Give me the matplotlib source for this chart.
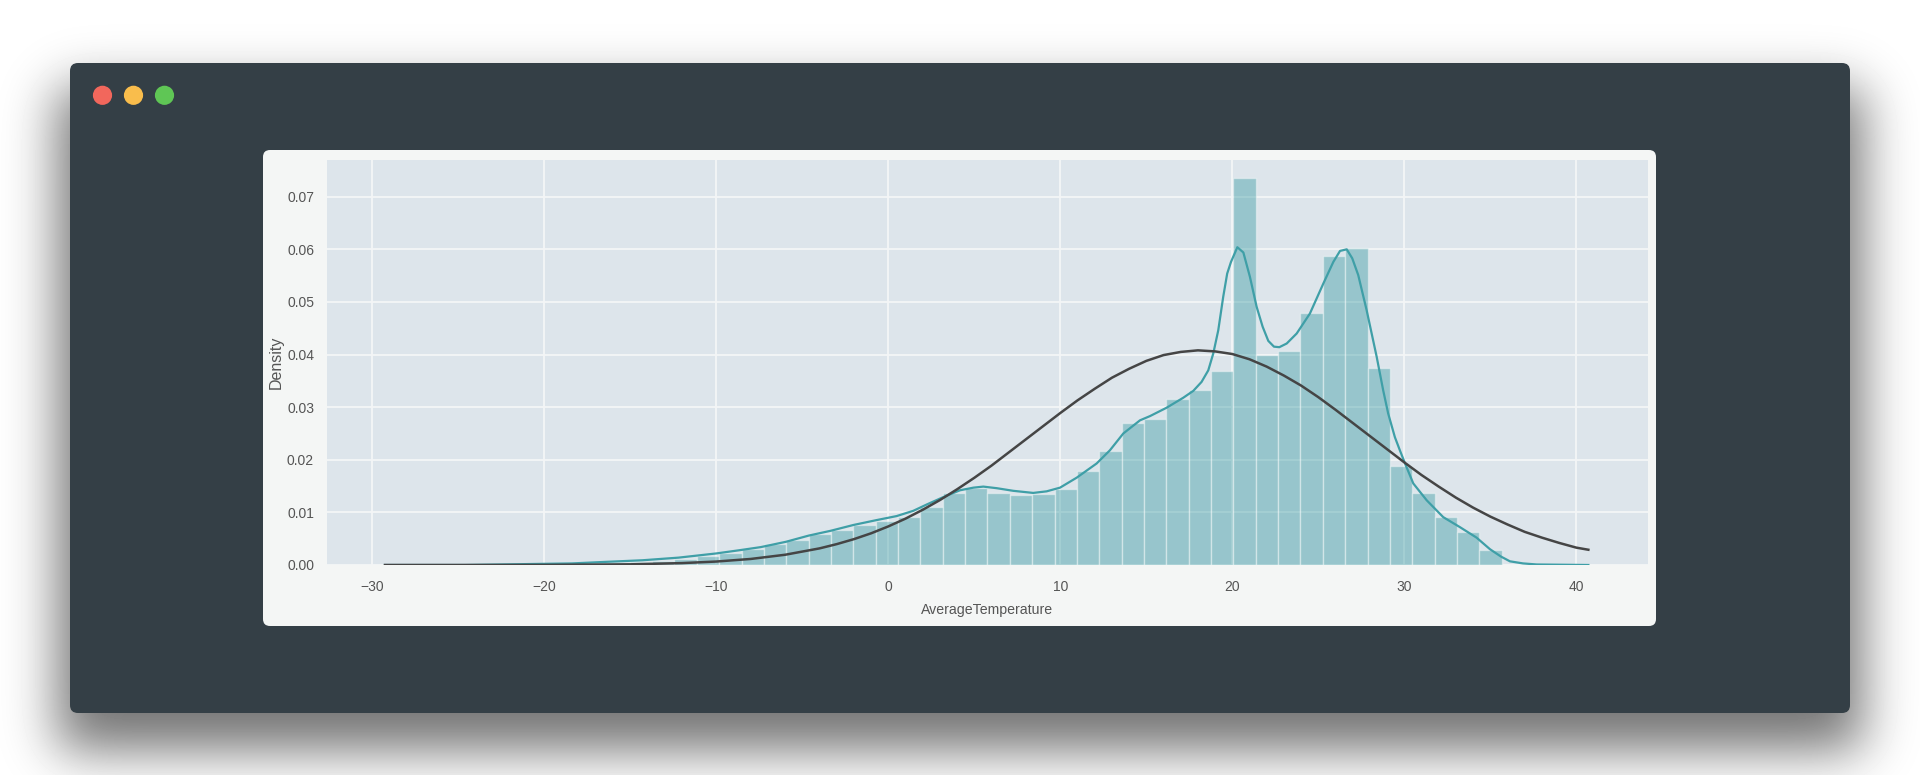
import math

import numpy as np
from matplotlib import pyplot as plt
from matplotlib.patches import Circle, FancyBboxPatch

plt.rcParams['font.family'] = ['Liberation Sans', 'DejaVu Sans']

# histogram of AverageTemperature
bin_width = 1.3
bin_lefts = [-20.24, -18.94, -17.64, -16.34, -15.04, -13.74, -12.44, -11.14, -9.84, -8.54,
             -7.24, -5.94, -4.64, -3.34, -2.04, -0.74, 0.56, 1.86, 3.16, 4.46,
             5.76, 7.06, 8.36, 9.66, 10.96, 12.26, 13.56, 14.86, 16.16, 17.46,
             18.76, 20.06, 21.36, 22.66, 23.96, 25.26, 26.56, 27.86, 29.16, 30.46,
             31.76, 33.06, 34.36]
bin_heights = [0.0001, 0.0001, 0.0002, 0.0003, 0.0005, 0.0008, 0.0011, 0.0017, 0.0023, 0.0031,
               0.0040, 0.0047, 0.0058, 0.0066, 0.0076, 0.0084, 0.0091, 0.0110, 0.0136, 0.0147,
               0.0136, 0.0134, 0.0135, 0.0145, 0.0179, 0.0216, 0.0270, 0.0278, 0.0315, 0.0332,
               0.0369, 0.0735, 0.0400, 0.0406, 0.0479, 0.0587, 0.0602, 0.0375, 0.0188, 0.0136,
               0.0091, 0.0062, 0.0029]

# kde curve
kde_x = [-29.27, -24.6, -20.5, -18.4, -16.4, -14.3, -12.2, -10.0, -8.68, -7.42, -5.97, -4.62,
         -3.36, -2.04, -0.74, 0.48, 1.45, 2.23, 3.19, 4.16, 4.94, 5.52, 6.30, 7.26, 8.42, 9.20,
         9.98, 10.95, 12.11, 12.88, 13.66, 14.63, 15.21, 16.18, 17.15, 17.73, 18.21, 18.60, 18.89,
         19.18, 19.47, 19.70, 19.92, 20.29, 20.64, 21.02, 21.41, 21.76, 22.09, 22.42, 22.73, 23.16,
         23.74, 24.51, 25.29, 25.87, 26.26, 26.65, 26.97, 27.32, 27.81, 28.39, 28.77, 29.06, 29.45,
         29.74, 30.04, 30.52, 31.30, 32.26, 33.23, 34.20, 34.98, 35.62, 36.14, 36.9, 37.7, 40.7]
kde_y = [0.0, 0.0, 0.0002, 0.0003, 0.0006, 0.0009, 0.0014, 0.0022, 0.0028, 0.0034, 0.0044, 0.0056,
         0.0065, 0.0076, 0.0085, 0.0093, 0.0103, 0.0115, 0.0129, 0.0142, 0.0147, 0.0149, 0.0146, 0.0141, 0.0137, 0.0140,
         0.0147, 0.0166, 0.0193, 0.0218, 0.0250, 0.0275, 0.0283, 0.0299, 0.0318, 0.0331, 0.0348, 0.0370, 0.0402,
         0.0446, 0.0510, 0.0554, 0.0576, 0.0604, 0.0594, 0.0548, 0.0491, 0.0453, 0.0426, 0.0415, 0.0414, 0.0421,
         0.0440, 0.0478, 0.0535, 0.0576, 0.0597, 0.0600, 0.0583, 0.0551, 0.0484, 0.0396, 0.0332, 0.0288, 0.0243,
         0.0218, 0.0193, 0.0155, 0.0123, 0.0091, 0.0072, 0.0052, 0.0030, 0.0016, 0.0007, 0.0003, 0.0001, 0.0]

# fitted normal curve
fit_x = [-29.27, -25, -20, -15, -12, -10, -8, -6, -4, -3, -2, -1, 0, 1, 2, 3, 4, 5, 6, 7, 8, 9,
         10, 11, 12, 13, 14, 15, 16, 17, 18, 19, 20, 21, 22, 23, 24, 25, 26, 27, 28, 29, 30,
         31, 32, 33, 34, 35, 36, 37, 38, 39, 40, 40.7]
fit_y = [0.0, 0.0, 0.00002, 0.00013, 0.00036, 0.00066, 0.00115, 0.00195, 0.00316, 0.00397, 0.00492,
         0.00603, 0.00734, 0.00882, 0.0105, 0.01235, 0.0144, 0.01658, 0.0189, 0.0214, 0.0239, 0.0264,
         0.0289, 0.0313, 0.0335, 0.0356, 0.0373, 0.0388, 0.0399, 0.0405, 0.0408, 0.0406, 0.0401, 0.0391,
         0.0377, 0.0360, 0.0341, 0.0319, 0.0295, 0.0270, 0.0245, 0.0220, 0.0195, 0.0171, 0.0149, 0.0128,
         0.0109, 0.0092, 0.0077, 0.0063, 0.0052, 0.0042, 0.0033, 0.0029]

x_ticks = [-30, -20, -10, 0, 10, 20, 30, 40]
x_tick_labels = ['\u221230', '\u221220', '\u221210', '0', '10', '20', '30', '40']
y_ticks = [0.00, 0.01, 0.02, 0.03, 0.04, 0.05, 0.06, 0.07]
y_tick_labels = ['0.00', '0.01', '0.02', '0.03', '0.04', '0.05', '0.06', '0.07']

W, H = 1920, 775
fig = plt.figure(figsize=(W / 100, H / 100), dpi=100, facecolor='white')

# window, card and traffic lights, all in pixels
bg = fig.add_axes([0, 0, 1, 1])
bg.set_xlim(0, W)
bg.set_ylim(H, 0)
bg.axis('off')

# blurred drop shadow under the window
erf = np.vectorize(math.erf)
sigma = 26 * math.sqrt(2)
xs = np.arange(W) + 0.5
ys = np.arange(H) + 0.5
shadow_x = 0.5 * (erf((xs - 58) / sigma) - erf((xs - 1862) / sigma))
shadow_y = 0.5 * (erf((ys - 88) / sigma) - erf((ys - 750) / sigma))
shadow = 1 - 0.55 * np.outer(shadow_y, shadow_x)
bg.imshow(shadow, cmap='gray', vmin=0, vmax=1, extent=(0, W, H, 0), aspect='auto', zorder=0)

bg.add_patch(FancyBboxPatch((70, 63), 1780, 650, boxstyle='round,pad=0,rounding_size=8',
                            facecolor='#343f46', edgecolor='none', zorder=1))
bg.add_patch(FancyBboxPatch((263, 150), 1393, 476, boxstyle='round,pad=0,rounding_size=7',
                            facecolor='#f4f6f5', edgecolor='none', zorder=2))
for cx, color in zip([102.5, 133.5, 164.5], ['#f2675c', '#f9bd4c', '#5fc655']):
    bg.add_patch(Circle((cx, 95.3), 9.6, facecolor=color, edgecolor='none', zorder=2))

# chart area
left, right, top, bottom = 326.5, 1647.7, 160, 565
ax = fig.add_axes([left / W, 1 - bottom / H, (right - left) / W, (bottom - top) / H])
ax.set_facecolor('#dde5eb')
ax.bar(bin_lefts, bin_heights, width=bin_width, align='edge', color='#2f979e', alpha=0.4,
       edgecolor='white', linewidth=1.0, zorder=2)
ax.plot(kde_x, kde_y, color='#3f9fa7', linewidth=1.6, zorder=3)
ax.plot(fit_x, fit_y, color='#454545', linewidth=1.8, zorder=4)

ax.set_xlim(-32.67, 44.15)
ax.set_ylim(0, 0.07698)
ax.set_xticks(x_ticks)
ax.set_xticklabels(x_tick_labels)
ax.set_yticks(y_ticks)
ax.set_yticklabels(y_tick_labels)
ax.tick_params(axis='both', length=0, labelsize=10, labelcolor='#555555')
ax.tick_params(axis='x', pad=11)
ax.tick_params(axis='y', pad=9)
ax.grid(True, color='#f4f6f7', linewidth=1.3)
ax.set_axisbelow(True)
for spine in ax.spines.values():
    spine.set_visible(False)

ax.set_xlabel('AverageTemperature', fontsize=10.2, color='#555555', labelpad=6)
ax.set_ylabel('Density', fontsize=11.5, color='#555555', labelpad=2)

plt.savefig('out.png', dpi=100)
plt.close()
